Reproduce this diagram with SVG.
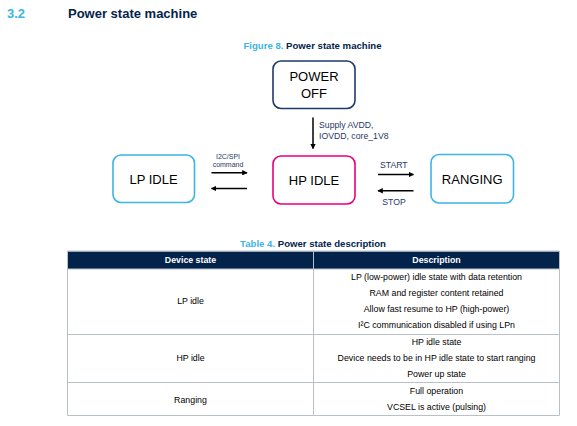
<svg xmlns="http://www.w3.org/2000/svg" width="577" height="426" viewBox="0 0 577 426">
<style>
text{font-family:"Liberation Sans",Arial,sans-serif}
.h{font-size:13px;font-weight:bold}
.cap{font-size:9.6px;font-weight:bold;fill:#03234b}
.blue{fill:#3cb4e6}
.node rect{fill:#fff;stroke-width:1.6}
.nt{font-size:13px;fill:#000;text-anchor:middle}
.lbl{fill:#1f3864;font-size:8.7px}
.sm{fill:#1f3864;font-size:7px;text-anchor:middle}
.conn line{stroke:#000;stroke-width:1.5}
.td{font-size:8.8px;fill:#000;text-anchor:middle}
.th{font-size:8.8px;fill:#fff;font-weight:bold;text-anchor:middle}
.grid line{stroke:#b9c0c7;stroke-width:1}
</style>
<defs>
<marker id="ah" viewBox="0 0 8 8" refX="7" refY="4" markerWidth="5.5" markerHeight="5.5" markerUnits="userSpaceOnUse" orient="auto">
<path d="M0,0 L8,4 L0,8 Z" fill="#000"/>
</marker>
</defs>
<rect width="577" height="426" fill="#fff"/>
<text class="h blue" x="7" y="18">3.2</text>
<text class="h" x="68" y="18" fill="#03234b">Power state machine</text>
<text class="cap" x="312.5" y="49" text-anchor="middle"><tspan class="blue">Figure 8.</tspan> Power state machine</text>

<g id="power-off" class="node">
<rect x="273" y="61" width="82" height="47.5" rx="8" stroke="#1e3a6e"/>
<text class="nt" x="314" y="81">POWER</text>
<text class="nt" x="314" y="98">OFF</text>
</g>
<g id="hp-idle" class="node">
<rect x="273" y="156" width="82" height="48" rx="8" stroke="#e6007e"/>
<text class="nt" x="314" y="185">HP IDLE</text>
</g>
<g id="lp-idle" class="node">
<rect x="113" y="155" width="81.5" height="47.5" rx="8" stroke="#3cb4e6"/>
<text class="nt" x="153.5" y="184">LP IDLE</text>
</g>
<g id="ranging" class="node">
<rect x="431" y="154.5" width="82.5" height="48.5" rx="8" stroke="#3cb4e6"/>
<text class="nt" x="472.2" y="184">RANGING</text>
</g>

<g id="connectors" class="conn">
<line x1="313" y1="117.5" x2="313" y2="148.5" marker-end="url(#ah)"/>
<line x1="211.5" y1="172.7" x2="247" y2="172.7" marker-end="url(#ah)"/>
<line x1="247" y1="188.5" x2="211.5" y2="188.5" marker-end="url(#ah)"/>
<line x1="378" y1="174.5" x2="413.5" y2="174.5" marker-end="url(#ah)"/>
<line x1="413.5" y1="190.8" x2="378" y2="190.8" marker-end="url(#ah)"/>
<text class="lbl" x="319" y="128">Supply AVDD,</text>
<text class="lbl" x="319" y="139">IOVDD, core_1V8</text>
<text class="sm" x="228" y="158.5">I2C/SPI</text>
<text class="sm" x="228" y="167">command</text>
<text class="lbl" x="393.8" y="168" text-anchor="middle">START</text>
<text class="lbl" x="394" y="204.5" text-anchor="middle">STOP</text>
</g>

<text class="cap" x="313" y="246.5" text-anchor="middle"><tspan class="blue">Table 4.</tspan> Power state description</text>

<g id="table">
<rect x="67.5" y="251.5" width="492" height="17.5" fill="#03234b"/>
<g class="grid">
<line x1="67.5" y1="251" x2="559.5" y2="251"/>
<line x1="67.5" y1="269" x2="559.5" y2="269"/>
<line x1="67.5" y1="334.5" x2="559.5" y2="334.5"/>
<line x1="67.5" y1="382.5" x2="559.5" y2="382.5"/>
<line x1="67.5" y1="415.5" x2="559.5" y2="415.5"/>
<line x1="67.5" y1="251" x2="67.5" y2="415.5"/>
<line x1="313.5" y1="251" x2="313.5" y2="415.5"/>
<line x1="559.5" y1="251" x2="559.5" y2="415.5"/>
</g>
<text class="th" x="190.5" y="262.5">Device state</text>
<text class="th" x="436.5" y="262.5">Description</text>
<text class="td" x="190.5" y="304">LP idle</text>
<text class="td" x="436.5" y="280">LP (low-power) idle state with data retention</text>
<text class="td" x="436.5" y="296">RAM and register content retained</text>
<text class="td" x="436.5" y="311.5">Allow fast resume to HP (high-power)</text>
<text class="td" x="436.5" y="328">I²C communication disabled if using LPn</text>
<text class="td" x="190.5" y="361">HP idle</text>
<text class="td" x="436.5" y="345">HP idle state</text>
<text class="td" x="436.5" y="361">Device needs to be in HP idle state to start ranging</text>
<text class="td" x="436.5" y="376.5">Power up state</text>
<text class="td" x="190.5" y="403">Ranging</text>
<text class="td" x="436.5" y="394">Full operation</text>
<text class="td" x="436.5" y="410">VCSEL is active (pulsing)</text>
</g>
</svg>
